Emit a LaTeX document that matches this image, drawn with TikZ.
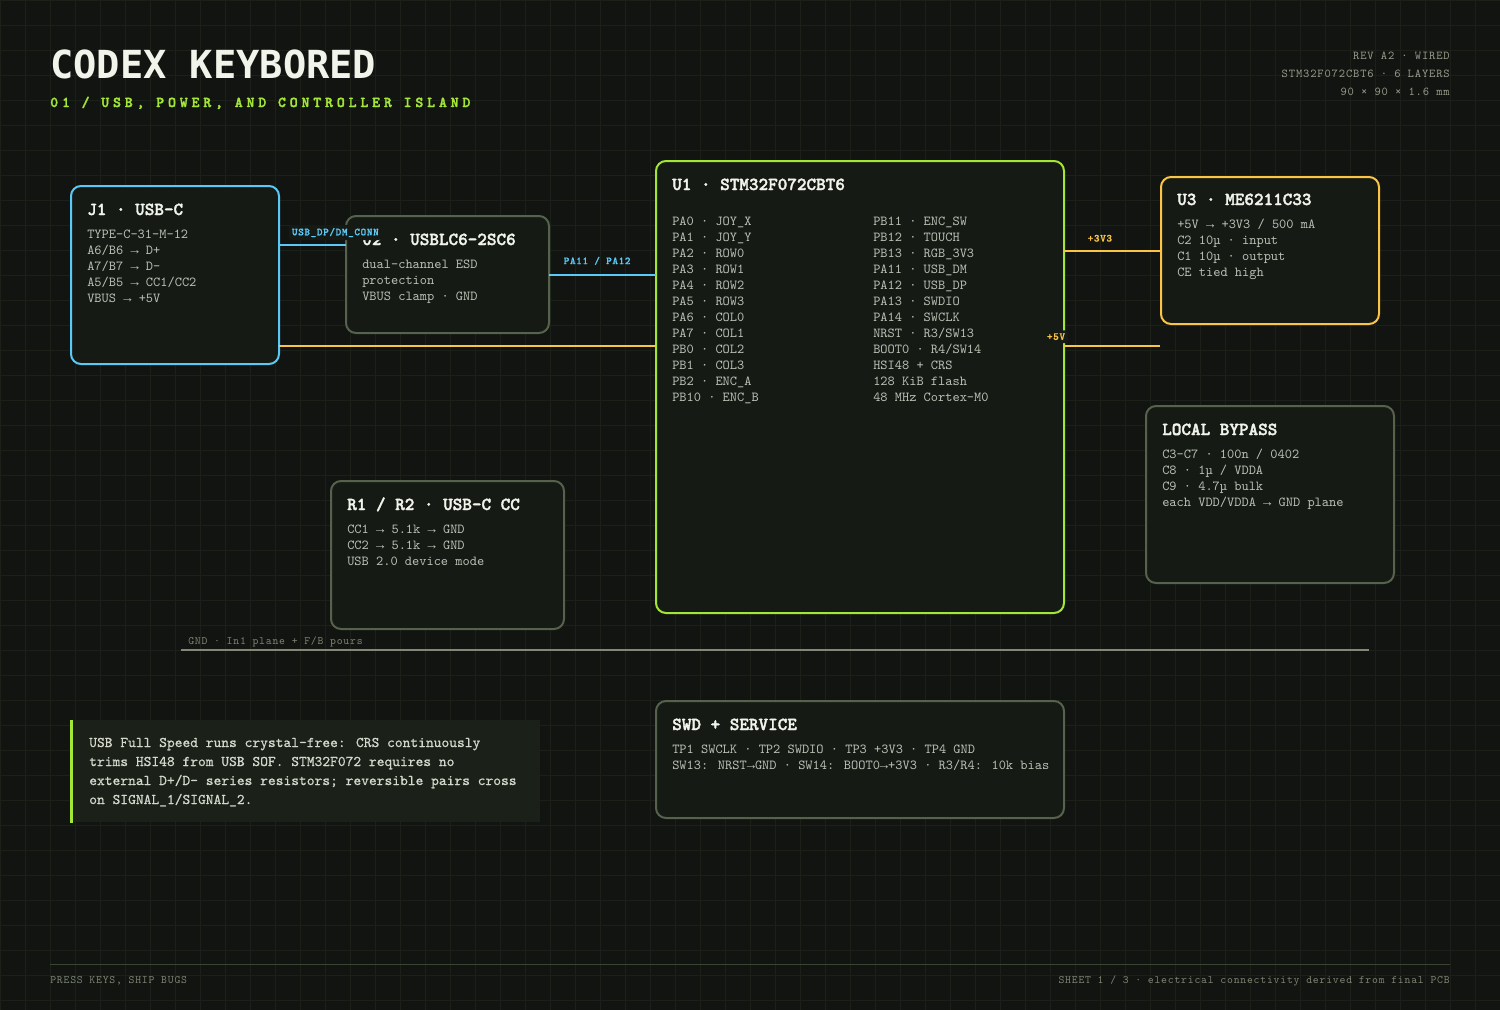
\documentclass[tikz,border=0pt]{standalone}
\usepackage{fontspec}
\setmainfont{lmmono10-regular.otf}[BoldFont=lmmonolt10-bold.otf, BoldFeatures={FakeBold=2}]
\newfontfamily\headfont{DejaVu Sans Mono}
\newfontfamily\subfont{lmmonolt10-bold.otf}[LetterSpace=26, FakeBold=2.2]
\newfontfamily\metafont{lmmono10-regular.otf}[LetterSpace=7]
\newfontfamily\notefont{lmmono10-regular.otf}[FakeBold=0.6]
\newfontfamily\netfont{lmmonolt10-bold.otf}[LetterSpace=6, FakeBold=1.2]
\newfontfamily\arrfont{Liberation Mono}
\newcommand\ra{{\arrfont →}}
\definecolor{pagebg}{RGB}{17,20,16}
\definecolor{gridln}{RGB}{27,33,24}
\definecolor{boxfill}{RGB}{22,26,21}
\definecolor{boxedge}{RGB}{86,98,76}
\definecolor{notefill}{RGB}{27,33,24}
\definecolor{usbblue}{RGB}{92,200,245}
\definecolor{pwryel}{RGB}{250,196,70}
\definecolor{lime}{RGB}{163,230,53}
\definecolor{titlewhite}{RGB}{240,244,234}
\definecolor{bodytext}{RGB}{188,193,180}
\definecolor{notetext}{RGB}{212,216,204}
\definecolor{metatext}{RGB}{150,156,140}
\definecolor{foottext}{RGB}{125,133,115}
\definecolor{gndgrey}{RGB}{128,136,118}
\definecolor{footline}{RGB}{58,68,50}

\begin{document}
\begin{tikzpicture}[x=0.75pt, y=-0.75pt,
  blk/.style={rectangle, rounded corners=7.5pt, line width=1.5pt, fill=boxfill, draw=boxedge, inner sep=0pt, outer sep=0pt, anchor=north west},
  boxsize/.style 2 args={minimum width=#1*0.75pt, minimum height=#2*0.75pt},
  blktitle/.style={anchor=base west, inner sep=0pt, text=titlewhite, font=\fontsize{13.7}{16}\selectfont\bfseries},
  blktxt/.style={anchor=base west, inner sep=0pt, text=bodytext, font=\fontsize{10.3}{12}\selectfont},
  wire/.style={line width=1.5pt},
  netlbl/.style={font=\netfont\fontsize{8}{10}\selectfont, inner sep=2.25pt, rounded corners=2pt},
  metatxt/.style={anchor=base east, inner sep=0pt, text=metatext, font=\metafont\fontsize{9}{11}\selectfont},
  foottxt/.style={inner sep=0pt, text=foottext, font=\metafont\fontsize{8.4}{10}\selectfont}]

% Page and grid
\useasboundingbox (0,0) rectangle (1500,1010);
\fill[pagebg] (0,0) rectangle (1500,1010);
\foreach \gx in {0,25,...,1500} \draw[gridln, line width=0.5pt] (\gx,0) -- (\gx,1010);
\foreach \gy in {0,25,...,1000} \draw[gridln, line width=0.5pt] (0,\gy) -- (1500,\gy);

% Title
\node[anchor=base west, inner sep=0pt, text=titlewhite, font=\headfont\bfseries\fontsize{29}{31}\selectfont] (title) at (50,78) {CODEX KEYBORED};
\node[anchor=base west, inner sep=0pt, text=lime, font=\subfont\fontsize{11.25}{13}\selectfont] (subtitle) at (50,107) {01 / USB, POWER, AND CONTROLLER ISLAND};
\node[metatxt] (meta1) at (1450,59) {REV A2 · WIRED};
\node[metatxt] (meta2) at (1450,77) {STM32F072CBT6 · 6 LAYERS};
\node[metatxt] (meta3) at (1450,95) {90 × 90 × 1.6 mm};

% J1 USB-C
\node[blk, draw=usbblue, boxsize={208}{178}] (j1) at (71,186) {};
\node[blktitle] (j1title) at ([shift={(16,29)}]j1.north west) {J1 · USB-C};
\foreach \ln [count=\i from 0] in {TYPE-C-31-M-12, A6/B6 \ra{} D+, A7/B7 \ra{} D-, A5/B5 \ra{} CC1/CC2, VBUS \ra{} +5V}
  \node[blktxt] (j1l\i) at ([shift={(16,52+16*\i)}]j1.north west) {\ln};

% U2 ESD
\node[blk, boxsize={203}{117}] (u2) at (346,216) {};
\node[blktitle] (u2title) at ([shift={(16,29)}]u2.north west) {U2 · USBLC6-2SC6};
\foreach \ln [count=\i from 0] in {dual-channel ESD, protection, VBUS clamp · GND}
  \node[blktxt] (u2l\i) at ([shift={(16,52+16*\i)}]u2.north west) {\ln};

% U1 MCU
\node[blk, draw=lime, boxsize={408}{452}] (u1) at (656,161) {};
\node[blktitle] (u1title) at ([shift={(16,29)}]u1.north west) {U1 · STM32F072CBT6};
\foreach \ln [count=\i from 0] in {PA0 · JOY\_X, PA1 · JOY\_Y, PA2 · ROW0, PA3 · ROW1, PA4 · ROW2, PA5 · ROW3, PA6 · COL0, PA7 · COL1, PB0 · COL2, PB1 · COL3, PB2 · ENC\_A, PB10 · ENC\_B}
  \node[blktxt] (u1a\i) at ([shift={(16,64+16*\i)}]u1.north west) {\ln};
\foreach \ln [count=\i from 0] in {PB11 · ENC\_SW, PB12 · TOUCH, PB13 · RGB\_3V3, PA11 · USB\_DM, PA12 · USB\_DP, PA13 · SWDIO, PA14 · SWCLK, NRST · R3/SW13, BOOT0 · R4/SW14, HSI48 + CRS, 128 KiB flash, 48 MHz Cortex-M0}
  \node[blktxt] (u1b\i) at ([shift={(217,64+16*\i)}]u1.north west) {\ln};

% U3 LDO
\node[blk, draw=pwryel, boxsize={218}{147}] (u3) at (1161,177) {};
\node[blktitle] (u3title) at ([shift={(16,28)}]u3.north west) {U3 · ME6211C33};
\foreach \ln [count=\i from 0] in {+5V \ra{} +3V3 / 500 mA, C2 10µ · input, C1 10µ · output, CE tied high}
  \node[blktxt] (u3l\i) at ([shift={(16,51+16*\i)}]u3.north west) {\ln};

% Local bypass
\node[blk, boxsize={248}{177}] (byp) at (1146,406) {};
\node[blktitle] (byptitle) at ([shift={(16,29)}]byp.north west) {LOCAL BYPASS};
\foreach \ln [count=\i from 0] in {C3—C7 · 100n / 0402, C8 · 1µ / VDDA, C9 · 4.7µ bulk, each VDD/VDDA \ra{} GND plane}
  \node[blktxt] (bypl\i) at ([shift={(16,52+16*\i)}]byp.north west) {\ln};

% R1 / R2
\node[blk, boxsize={233}{148}] (rcc) at (331,481) {};
\node[blktitle] (rcctitle) at ([shift={(16,29)}]rcc.north west) {R1 / R2 · USB-C CC};
\foreach \ln [count=\i from 0] in {CC1 \ra{} 5.1k \ra{} GND, CC2 \ra{} 5.1k \ra{} GND, USB 2.0 device mode}
  \node[blktxt] (rccl\i) at ([shift={(16,52+16*\i)}]rcc.north west) {\ln};

% SWD
\node[blk, boxsize={408}{117}] (swd) at (656,701) {};
\node[blktitle] (swdtitle) at ([shift={(16,29)}]swd.north west) {SWD + SERVICE};
\foreach \ln [count=\i from 0] in {TP1 SWCLK · TP2 SWDIO · TP3 +3V3 · TP4 GND, SW13: NRST\ra{}GND · SW14: BOOT0\ra{}+3V3 · R3/R4: 10k bias}
  \node[blktxt] (swdl\i) at ([shift={(16,52+16*\i)}]swd.north west) {\ln};

% Note
\node[fill=notefill, inner sep=0pt, anchor=north west, boxsize={470}{102}] (note) at (70,720) {};
\draw[lime, line width=2.25pt] ([xshift=1.1pt]note.north west) -- ([xshift=1.1pt]note.south west);
\foreach \ln [count=\i from 0] in {{USB Full Speed runs crystal-free: CRS continuously}, {trims HSI48 from USB SOF. STM32F072 requires no}, {external D+/D- series resistors; reversible pairs cross}, {on SIGNAL\_1/SIGNAL\_2.}}
  \node[anchor=base west, inner sep=0pt, text=notetext, font=\notefont\fontsize{11.1}{13}\selectfont] (notel\i) at ([shift={(19,27+19*\i)}]note.north west) {\ln};

% Nets
\draw[wire, usbblue] (j1.east |- 0,245) -- (u2.west |- 0,245)
  node[netlbl, pos=0, anchor=south west, fill=boxfill, text=usbblue, xshift=6.75pt, yshift=3pt] (dplbl) {USB\_DP/DM\_CONN};
\draw[wire, usbblue] (u2.east |- 0,275) -- (u1.west |- 0,275)
  node[netlbl, pos=0.45, above=4.5pt, text=usbblue] (palbl) {PA11 / PA12};
\draw[wire, pwryel] (u1.east |- 0,251) -- (u3.west |- 0,251)
  node[netlbl, pos=0.37, above=4pt, text=pwryel] (v33lbl) {+3V3};
\draw[wire, pwryel] (j1.east |- 0,346) -- (u1.west |- 0,346);
\coordinate (rail5) at (1160,346);
\draw[wire, pwryel] (u1.east |- 0,346) -- (rail5)
  node[netlbl, pos=0, anchor=south, fill=boxfill, text=pwryel, xshift=-6pt, yshift=1.5pt] (v5lbl) {+5V};

% GND plane
\coordinate (gndA) at (181,650);
\coordinate (gndB) at (1369,650);
\draw[gndgrey, line width=1.5pt] (gndA) -- (gndB);
\node[foottxt, anchor=base west] (gndlbl) at (188,644) {GND · In1 plane + F/B pours};

% Footer
\draw[footline, line width=0.75pt] (50,964) -- (1450,964);
\node[foottxt, anchor=base west] (footl) at (50,983) {PRESS KEYS, SHIP BUGS};
\node[foottxt, anchor=base east] (footr) at (1450,983) {SHEET 1 / 3 · electrical connectivity derived from final PCB};
\end{tikzpicture}
\end{document}
